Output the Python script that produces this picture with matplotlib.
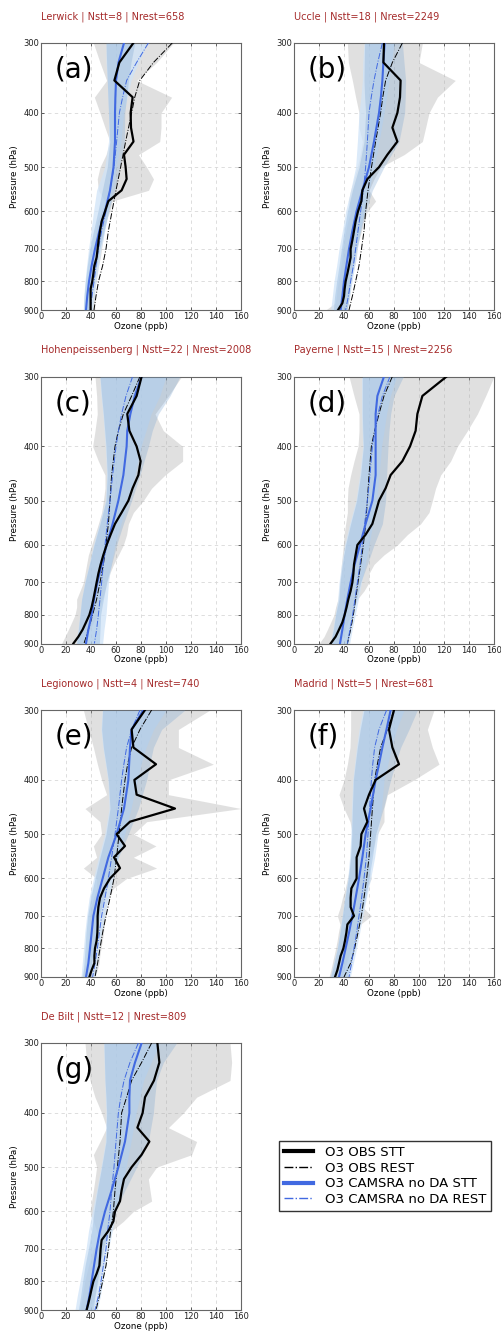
import matplotlib
matplotlib.use("Agg")
import matplotlib.pyplot as plt
from matplotlib.ticker import FixedLocator, NullLocator, FixedFormatter
from matplotlib.lines import Line2D

# ---------------- data ----------------
p_obs = [300, 325, 350, 375, 400, 425, 450, 475, 500, 525, 550, 575, 600,
         625, 650, 675, 700, 725, 750, 775, 800, 825, 850, 875, 900]
p_smooth = [300, 325, 350, 375, 400, 450, 500, 550, 600, 650, 700, 750, 800, 850, 900]

stations = ["Lerwick", "Uccle", "Hohenpeissenberg", "Payerne", "Legionowo", "Madrid", "De Bilt"]
n_stt = [8, 18, 22, 15, 4, 5, 12]
n_rest = [658, 2249, 2008, 2256, 740, 681, 809]
letters = ["(a)", "(b)", "(c)", "(d)", "(e)", "(f)", "(g)"]

# (a) Lerwick
obs_stt_a = [73.9, 62.7, 58.7, 73.3, 71.7, 72, 74, 66.4, 67.7, 68.5, 64.5, 53.9, 51.2, 48.5, 47.2, 46.1, 45.3, 44.5, 42.7, 41.9, 41, 39.7, 39.7, 39.7, 39.7]
grey_hi_a = [106, 92.5, 76.5, 104.5, 96, 96, 95, 78, 84.5, 90, 86, 57, 55, 52, 50.5, 49.5, 48.5, 47.5, 46, 45, 44, 43, 43, 43, 43]
grey_lo_a = [41.9, 47.2, 52.5, 42.7, 47.2, 51.2, 55.2, 52, 47.2, 45, 45.9, 51.2, 48.5, 45, 44, 43, 42, 41, 39.5, 38.8, 38, 37, 37, 37, 37]
obs_rest_a = [105, 90, 79, 75, 72.5, 67.7, 63.7, 60, 56.8, 53.9, 52, 49.3, 46, 44, 42.4]
cams_stt_a = [66.4, 62, 60, 59.5, 59.2, 59.2, 58, 55.2, 51.2, 46.7, 43.2, 40.5, 38.4, 37, 36]
cams_rest_a = [85.9, 76.5, 68.5, 65.3, 62.7, 60.5, 58.4, 55.2, 52, 48.5, 45.9, 44, 42.4, 40.8, 39.2]
dark_lo_a = [52, 52.5, 53, 53.5, 54, 55, 53, 49, 45.5, 42, 39, 37, 35.5, 34.5, 34]
dark_hi_a = [75, 72, 70, 68.5, 67, 66.7, 63, 59, 54, 50.4, 47, 44.5, 42.4, 40.5, 39]
light_lo_a = [52, 52, 53, 53.5, 54, 54, 51, 44.5, 42, 40, 38, 36.5, 35.2, 34.2, 33.8]
light_hi_a = [85, 78, 72, 69, 66, 64, 60, 57, 54, 51, 48, 46, 44, 42.5, 41]

# (b) Uccle
obs_stt_b = [72, 71.5, 85.3, 84.8, 82.7, 78.7, 82.7, 74.7, 68, 58.7, 54.7, 53.9, 51.2, 49.3, 48, 46.7, 45.3, 45.3, 44, 42.7, 41.3, 40.5, 40, 38.7, 35.2]
grey_hi_b = [102.7, 100, 129, 114.7, 108, 105.3, 102.7, 88, 69.3, 64, 60, 65.3, 58.7, 56, 54, 52, 50.5, 50, 48.5, 47, 46, 45, 44.5, 43.5, 42]
grey_lo_b = [42.7, 43.5, 46.7, 49.3, 52, 52, 54.7, 53, 50.7, 48, 45.3, 43.5, 45.3, 43, 41.5, 40, 39, 38.5, 37.5, 36.5, 35.5, 34.5, 34, 33, 25.3]
obs_rest_b = [86.7, 78.7, 73.3, 71, 69.3, 65.3, 62, 59.2, 57.3, 56, 54, 52, 49.3, 46.7, 44]
cams_stt_b = [72.5, 71.5, 70.7, 69.5, 68, 64, 60, 54.7, 50, 46.7, 44, 41.9, 40, 38.7, 37.3]
cams_rest_b = [70.7, 67, 64, 61.8, 60, 58.7, 57.3, 55.5, 53.3, 51.2, 49.3, 47.5, 45.3, 43.5, 41.3]
dark_lo_b = [56.5, 56.2, 56, 56.5, 57.3, 56, 52, 46.7, 42.7, 40, 37.9, 36, 34.1, 32.5, 31.5]
dark_hi_b = [86.7, 88, 89.3, 89, 88.5, 84, 72, 62.7, 57.3, 53.3, 50, 47.5, 45.3, 44, 42.7]
light_lo_b = [56, 55, 54.7, 53.5, 52, 50.7, 49.3, 45.3, 41.3, 38.7, 36, 34.1, 32, 30.7, 29.3]
light_hi_b = [80, 78, 76, 74, 72, 68, 64, 60, 56, 53, 50.5, 48.5, 46.5, 44.5, 42.5]

# (c) Hohenpeissenberg
obs_stt_c = [80.5, 76.5, 69, 70.7, 76.5, 79.7, 77.9, 73.3, 69.9, 64.5, 59.2, 55.7, 52.5, 49.9, 47.7, 45.9, 44.5, 43.2, 41.9, 40.5, 38.7, 36, 33.3, 29.9, 25.9]
grey_hi_c = [112.5, 101.9, 91.2, 97.9, 113.3, 113.3, 99.2, 88.5, 81.9, 73.9, 69.9, 68.5, 65.9, 62, 58, 55, 53, 51, 49, 47, 45, 42, 39, 36, 33]
grey_lo_c = [43.2, 44.5, 45, 43.2, 41.3, 45.9, 51.2, 51.2, 49.9, 48.5, 45.9, 43.2, 40.5, 37.9, 36.5, 35.2, 33.9, 31.2, 28.5, 28.5, 27.2, 24.5, 21.9, 19.2, 16.5]
obs_rest_c = [79.2, 72.5, 65.9, 61.9, 59.2, 56.5, 55.2, 53.9, 52, 49.9, 47.2, 44.5, 41.3, 37.9, 34.4]
cams_stt_c = [80.5, 75, 71.5, 69, 68.5, 65.9, 61.9, 57.3, 52.5, 48.5, 45.1, 42.4, 40.5, 37.9, 36]
cams_rest_c = [73.3, 68, 64.5, 62, 60, 57.3, 55.2, 53, 51.2, 49.9, 48.5, 47.2, 45.9, 44.5, 42.7]
dark_lo_c = [47.2, 48.5, 49.9, 51, 52, 53, 52, 47.2, 42.4, 38.7, 35.2, 32.5, 31.2, 29.9, 28.5]
dark_hi_c = [111.2, 103.2, 93.9, 89, 85.9, 79.2, 72.5, 65.9, 60.5, 56.5, 52.5, 49.9, 47.7, 47.2, 46.7]
light_lo_c = [47, 48, 49.5, 50.5, 51.5, 52.5, 51.5, 46.5, 42, 38.5, 35, 32.5, 31, 29.5, 28]
light_hi_c = [100, 95, 88, 84, 80, 75, 70, 64, 59, 56, 54, 53, 52, 50.4, 49.3]

# (d) Payerne
obs_stt_d = [122.1, 102.7, 98.7, 97.3, 92.8, 86.7, 77.3, 73.3, 68, 65.3, 62.7, 57.3, 50.7, 49.3, 48, 47.5, 46.7, 45.3, 43.5, 42.1, 40.5, 38.7, 36, 33.3, 29.3]
grey_hi_d = [160, 153.3, 146.7, 138.7, 130.7, 125.3, 117.3, 113.3, 110.7, 108, 101.3, 90.7, 82.7, 72, 64, 60, 60, 56, 50.7, 48, 45.3, 43, 41, 39, 37]
grey_lo_d = [44, 48, 52, 52, 51.2, 48, 45.3, 43.2, 42.7, 42.7, 41.3, 40, 39.5, 38.7, 37.9, 37.3, 36.8, 36, 35.2, 33.3, 32, 29.3, 26.7, 24, 20]
obs_rest_d = [78.7, 72, 68, 64.5, 61.9, 60, 58.7, 57.3, 55.5, 53.3, 51.2, 49.3, 47.5, 45.3, 42.7]
cams_stt_d = [72, 66.7, 65.3, 65.3, 65.3, 65.3, 62.7, 57.3, 52.8, 48.5, 45.3, 42.7, 40.5, 38.7, 36.8]
cams_rest_d = [76.8, 70.7, 67.2, 64.8, 62.7, 60.8, 58.7, 56.5, 54.7, 52.8, 50.7, 48.8, 46.9, 44.8, 42.7]
dark_lo_d = [54.7, 54.7, 54.7, 55, 55.5, 53.3, 50.1, 45.3, 41.3, 38.7, 36.8, 36, 33.3, 31.5, 29.3]
dark_hi_d = [87.5, 80, 77.3, 76, 75.2, 74.1, 73.3, 70.7, 64, 58.7, 53.3, 50.1, 46.7, 44.8, 43.2]
light_lo_d = [54, 54, 54, 54.5, 55, 52.5, 49.5, 44.5, 40.5, 38, 36, 35, 33, 31, 29]
light_hi_d = [82, 77, 74, 72, 70, 68, 66, 63, 60, 57, 54, 51.5, 49, 46.5, 44.5]

# (e) Legionowo
obs_stt_e = [83.2, 72.5, 73.9, 92, 74.7, 76.5, 107.2, 71.2, 60.5, 67.2, 58.4, 63.2, 55.2, 50.4, 47.2, 45.9, 45.3, 45.3, 45.1, 44.5, 43.2, 42.7, 42.7, 40.5, 38.7]
grey_hi_e = [135.2, 109.9, 109.9, 137.9, 101.9, 101.9, 160, 84.5, 73.9, 92, 73.9, 92.5, 68.5, 57.9, 54, 52, 51, 50.5, 50, 49, 48, 47, 46.5, 45, 43]
grey_lo_e = [33.9, 37.9, 41.9, 45.1, 48.5, 52.5, 35.2, 47.2, 48.5, 41.9, 44.5, 33.9, 44.5, 44.5, 42, 40, 39, 39, 38.5, 38, 37, 36.5, 36, 34, 32]
obs_rest_e = [88.5, 79.2, 72.5, 69.3, 67.2, 64.5, 62.4, 60.5, 58.4, 55.2, 52, 49.3, 47.2, 45.3, 43.2]
cams_stt_e = [81.9, 72.5, 71.2, 70.5, 69.9, 66.4, 60.5, 53.9, 49.3, 45.1, 41.9, 40.5, 39.2, 37.9, 36]
cams_rest_e = [79.2, 72.5, 68.5, 66.3, 64.5, 61.9, 59.2, 56.5, 53.9, 51.2, 48.5, 46.7, 45.1, 43.2, 41.3]
dark_lo_e = [49.3, 48.5, 49.9, 52, 53.9, 55.2, 52, 47.2, 43.2, 39.7, 37.3, 36, 35.2, 34.4, 33.3]
dark_hi_e = [115.2, 96.5, 89.9, 87, 84.5, 77.9, 69.9, 61.9, 55.2, 50.4, 46.7, 44.5, 42.4, 40.5, 39.2]
light_lo_e = [49, 48, 49.5, 51.5, 53.5, 54.5, 51, 46, 42, 38.5, 36.5, 35, 34, 33, 32]
light_hi_e = [100, 90, 84, 80, 77, 72, 67, 62, 58, 54, 51, 48.5, 46.5, 45, 43.5]

# (f) Madrid
obs_stt_f = [80, 76, 78.7, 84, 65.3, 60, 56, 58.7, 53.9, 53.3, 50.1, 50.1, 50.1, 45.9, 45.3, 45.3, 48, 42.7, 41.9, 40.8, 39.5, 37.3, 36, 34.7, 32.8]
grey_hi_f = [112, 106.7, 110.7, 116, 96, 74.7, 72, 72, 66.7, 64, 61, 60, 61.9, 58, 56, 55, 61.9, 53, 50, 48, 46, 44, 42, 40, 38]
grey_lo_f = [45.3, 45.3, 44.8, 42.7, 40, 36, 40, 44.8, 46.7, 46, 45.3, 44.5, 42.7, 41, 38.7, 37, 34.7, 36.8, 35.5, 34.5, 33.3, 32, 30.7, 29.5, 28]
obs_rest_f = [80, 74.7, 69.3, 66.7, 64.5, 62.7, 61.3, 60, 58.1, 56, 53.9, 51.2, 48.5, 45.3, 40]
cams_stt_f = [77.3, 74, 70.7, 68, 65.3, 61.3, 57.3, 54.7, 52, 49.3, 46.7, 44, 41.3, 38.7, 36]
cams_rest_f = [74.1, 68, 64.5, 63, 61.9, 60.5, 59.2, 57.9, 56, 54.1, 52, 50.1, 48, 46.1, 44]
dark_lo_f = [56, 53, 50.7, 49, 47.5, 46.7, 46.1, 45.3, 43.5, 40.8, 38.7, 36.8, 34.7, 32, 29.3]
dark_hi_f = [98.7, 92, 85.3, 81, 77.3, 71.5, 65.3, 62.7, 60, 57.3, 53.9, 50.7, 48, 45.3, 42.7]
light_lo_f = [55, 52, 50, 48.5, 47, 46, 45.5, 44.5, 43, 40.5, 38.5, 36.5, 34.5, 31.5, 29]
light_hi_f = [88, 82, 78, 75, 72, 70, 67.2, 64.5, 61.3, 58, 55, 52.5, 50, 47.5, 45]

# (g) De Bilt
obs_stt_g = [93.1, 94.7, 90.4, 83.2, 81.3, 77.1, 86.7, 80.5, 72.5, 66.4, 64.5, 63.2, 59.2, 57.9, 53.9, 48.5, 47.7, 47.2, 46.7, 44.5, 41.9, 40.5, 39.2, 37.9, 36.5]
grey_hi_g = [151.2, 152.5, 151.2, 124.5, 113.9, 101.9, 124.5, 120.5, 92.5, 85.9, 87.2, 88.5, 73.9, 65.9, 56.5, 52, 51, 50.5, 50, 48, 46, 44.5, 43, 41.5, 40]
grey_lo_g = [35.2, 36.5, 39.2, 43.2, 48.5, 52.5, 47.2, 41.9, 44.5, 43.2, 41.9, 40.5, 39.2, 42, 44.5, 47.2, 42, 40, 38, 36.5, 35, 34, 33, 32, 31]
obs_rest_g = [88.5, 80.5, 72.5, 68.5, 64.5, 63.2, 61.1, 59.2, 57.9, 55.7, 53.9, 52, 49.3, 46.7, 44]
cams_stt_g = [80.5, 75.2, 71.2, 70.7, 70.7, 67.2, 61.9, 56.5, 51.2, 47.2, 44.5, 42.4, 40.5, 38.7, 36.5]
cams_rest_g = [77.9, 71.2, 66.4, 63.8, 61.9, 60, 58.4, 56.5, 55.2, 53.3, 52, 49.9, 48, 45.9, 43.2]
dark_lo_g = [50.4, 50.8, 51.2, 52, 52.5, 52, 48.5, 45.1, 42.4, 40.5, 37.9, 35.2, 33.3, 31.7, 29.9]
dark_hi_g = [108.5, 97.9, 92.5, 91, 89.9, 85.9, 76.5, 67.2, 59.2, 53.9, 49.9, 47.2, 45.1, 43.2, 41.9]
light_lo_g = [50, 50.5, 51, 51.5, 52, 51.5, 48, 44.5, 41, 38, 36, 33.5, 31.2, 29, 27.2]
light_hi_g = [95, 88, 82, 79, 76, 72, 68, 64, 60, 57, 54, 51.5, 49.5, 47.5, 45]

x_ticks = [0, 20, 40, 60, 80, 100, 120, 140, 160]
y_ticks = [300, 400, 500, 600, 700, 800, 900]

panels = [
    (obs_stt_a, grey_lo_a, grey_hi_a, obs_rest_a, cams_stt_a, cams_rest_a, dark_lo_a, dark_hi_a, light_lo_a, light_hi_a),
    (obs_stt_b, grey_lo_b, grey_hi_b, obs_rest_b, cams_stt_b, cams_rest_b, dark_lo_b, dark_hi_b, light_lo_b, light_hi_b),
    (obs_stt_c, grey_lo_c, grey_hi_c, obs_rest_c, cams_stt_c, cams_rest_c, dark_lo_c, dark_hi_c, light_lo_c, light_hi_c),
    (obs_stt_d, grey_lo_d, grey_hi_d, obs_rest_d, cams_stt_d, cams_rest_d, dark_lo_d, dark_hi_d, light_lo_d, light_hi_d),
    (obs_stt_e, grey_lo_e, grey_hi_e, obs_rest_e, cams_stt_e, cams_rest_e, dark_lo_e, dark_hi_e, light_lo_e, light_hi_e),
    (obs_stt_f, grey_lo_f, grey_hi_f, obs_rest_f, cams_stt_f, cams_rest_f, dark_lo_f, dark_hi_f, light_lo_f, light_hi_f),
    (obs_stt_g, grey_lo_g, grey_hi_g, obs_rest_g, cams_stt_g, cams_rest_g, dark_lo_g, dark_hi_g, light_lo_g, light_hi_g),
]

# ---------------- figure ----------------
W, H = 502, 1331
fig = plt.figure(figsize=(W / 100, H / 100), dpi=100)

col_left = [41, 294]
row_top = [43, 376.5, 710, 1043]
ax_w, ax_h = 200, 267

blue = "#4169e1"
title_col = "#a52a2a"

for i, data in enumerate(panels):
    (ostt, glo, ghi, orest, cstt, crest, dlo, dhi, llo, lhi) = data
    r, c = divmod(i, 2)
    left = col_left[c] / W
    bottom = 1 - (row_top[r] + ax_h) / H
    ax = fig.add_axes([left, bottom, ax_w / W, ax_h / H])

    ax.fill_betweenx(p_obs, glo, ghi, color="#a0a0a0", alpha=0.32, lw=0, zorder=1)
    ax.fill_betweenx(p_smooth, llo, lhi, color="#cfe3f8", alpha=0.75, lw=0, zorder=2)
    ax.fill_betweenx(p_smooth, dlo, dhi, color="#7aa5d2", alpha=0.30, lw=0, zorder=3)

    ax.plot(orest, p_smooth, color="black", lw=0.7, ls="-.", zorder=5)
    ax.plot(crest, p_smooth, color=blue, lw=0.7, ls="-.", zorder=5)
    ax.plot(cstt, p_smooth, color=blue, lw=1.5, zorder=6)
    ax.plot(ostt, p_obs, color="black", lw=1.6, zorder=7)

    ax.set_yscale("log")
    ax.set_ylim(900, 300)
    ax.set_xlim(0, 160)
    ax.yaxis.set_major_locator(FixedLocator(y_ticks))
    ax.yaxis.set_major_formatter(FixedFormatter([str(v) for v in y_ticks]))
    ax.yaxis.set_minor_locator(NullLocator())
    ax.set_xticks(x_ticks)
    ax.set_xticklabels([str(v) for v in x_ticks])
    ax.grid(True, ls=(0, (4, 4)), color="#d8d8d8", lw=0.6, zorder=0)
    ax.set_axisbelow(True)
    ax.tick_params(labelsize=6, colors="#222222", length=2, width=0.5, pad=1.5,
                   direction="in", top=True, right=True)
    for s in ax.spines.values():
        s.set_color("#666666")
        s.set_linewidth(0.8)
    ax.set_xlabel("Ozone (ppb)", fontsize=6.3, labelpad=0.5)
    ax.set_ylabel("Pressure (hPa)", fontsize=6.3, labelpad=3)
    ax.set_title(f"{stations[i]} | Nstt={n_stt[i]} | Nrest={n_rest[i]}",
                 loc="left", fontsize=7, color=title_col, pad=17)
    ax.text(0.07, 0.90, letters[i], transform=ax.transAxes, fontsize=20,
            va="center", ha="left", zorder=10)

handles = [
    Line2D([], [], color="black", lw=3),
    Line2D([], [], color="black", lw=1, ls="-."),
    Line2D([], [], color=blue, lw=3),
    Line2D([], [], color=blue, lw=1, ls="-."),
]
labels = ["O3 OBS STT", "O3 OBS REST", "O3 CAMSRA no DA STT", "O3 CAMSRA no DA REST"]
leg = fig.legend(handles, labels, loc="center", bbox_to_anchor=(385 / W, 1 - 1176 / H),
                 fontsize=9.5, frameon=True, fancybox=False, handlelength=2.2,
                 handletextpad=0.9, borderpad=0.4, labelspacing=0.2)
leg.get_frame().set_edgecolor("black")
leg.get_frame().set_linewidth(1.0)

fig.savefig("out.png", dpi=100)
